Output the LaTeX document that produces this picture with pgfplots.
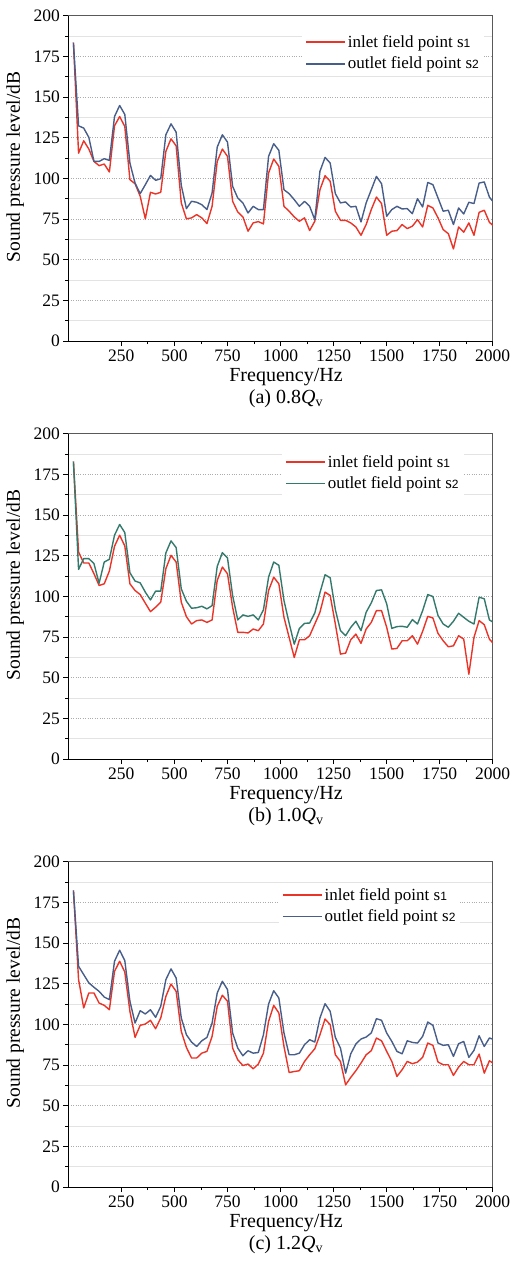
\documentclass[border=0pt]{standalone}
\usepackage{fontspec}
\setmainfont{Liberation Serif}
\setsansfont{Liberation Sans}
\usepackage{pgfplots}
\usepackage{pgfplotstable}
\pgfplotsset{compat=1.18}
\definecolor{sred}{RGB}{234,52,40}
\definecolor{sblue}{RGB}{72,94,138}
\definecolor{steal}{RGB}{52,122,108}

\pgfplotstableread{
f a1 a2 b1 b2 c1 c2
24.2 183.4 183.4 182.9 182.9 182.3 182.3
48.4 115.5 132.3 127.3 116.6 127.5 135.7
72.6 123.1 130.9 120.5 123.2 110.1 130.6
96.8 118.0 125.2 120.5 123.2 119.3 125.5
121.0 110.4 110.4 113.9 120.1 119.3 122.8
145.2 107.8 110.4 106.7 108.1 113.1 120.3
169.4 108.8 112.1 107.7 121.1 111.7 116.8
193.6 103.9 111.0 115.6 122.8 109.0 115.2
217.8 132.3 138.0 130.8 137.6 132.6 138.8
242.0 138.0 144.8 137.6 144.2 138.8 145.6
266.2 131.9 139.3 131.0 139.2 132.2 139.2
290.4 99.2 109.4 107.7 114.5 108.0 114.2
314.6 96.7 97.1 103.6 109.4 92.0 100.8
338.8 89.0 90.6 101.1 108.3 99.4 108.4
363.0 75.1 96.1 95.8 102.6 100.2 106.4
387.2 91.4 101.8 90.6 97.8 102.5 109.0
411.4 90.4 98.8 93.3 103.2 97.3 104.3
435.6 91.4 99.8 96.4 103.2 103.9 111.1
459.8 116.6 126.8 117.0 126.7 117.2 127.5
484.0 124.3 133.5 125.2 134.1 124.8 134.1
508.2 120.0 128.4 121.1 130.0 120.3 128.5
532.4 84.9 95.7 96.4 104.6 95.7 103.9
556.6 75.1 81.4 87.5 97.0 85.8 93.6
580.8 75.7 85.9 83.0 92.7 79.3 89.1
605.0 77.7 85.3 85.1 93.0 79.3 86.4
629.2 75.7 83.8 85.5 93.9 82.3 89.9
653.4 72.2 80.8 84.0 92.3 83.4 92.0
677.6 82.8 91.0 85.5 94.3 92.6 100.8
701.8 110.4 119.2 109.8 118.4 111.1 119.3
726.0 118.0 126.8 118.0 126.9 117.9 126.5
750.2 113.5 122.3 113.9 123.6 114.2 121.4
774.4 85.9 95.1 93.3 100.5 85.4 94.7
798.6 79.3 87.9 77.9 85.5 78.2 85.4
822.8 76.3 84.9 77.9 88.6 74.7 80.7
847.0 67.5 78.7 77.5 87.7 75.6 83.8
871.2 72.6 82.8 79.9 88.6 72.7 82.3
895.4 73.4 80.8 78.9 85.5 75.6 82.7
919.6 72.0 80.8 83.0 91.7 82.3 93.6
943.8 103.3 113.5 103.6 111.8 101.8 112.5
968.0 111.9 121.3 111.8 121.1 111.7 120.7
992.2 107.4 117.2 107.7 119.1 107.0 116.2
1016.4 82.8 93.0 87.1 97.4 86.4 94.7
1040.6 79.8 90.6 74.8 83.6 70.4 81.3
1064.8 76.3 86.9 62.4 70.6 71.0 81.3
1089.0 73.6 82.8 73.3 80.3 71.5 82.3
1113.2 75.7 85.9 73.3 83.4 77.2 87.5
1137.4 67.9 82.8 75.8 83.6 81.3 90.6
1161.6 73.6 74.6 83.0 89.8 85.0 89.1
1185.8 93.0 104.3 90.2 102.2 93.6 103.9
1210.0 101.6 112.9 102.6 113.3 103.3 112.7
1234.2 98.2 109.4 100.5 111.4 99.8 108.0
1258.4 79.8 90.6 83.0 91.9 81.3 92.0
1282.6 74.2 84.9 64.5 78.9 77.2 85.4
1306.8 74.2 85.5 65.1 75.8 62.8 70.0
1331.0 72.6 82.4 73.3 80.9 67.4 81.9
1355.2 70.1 82.8 76.8 84.7 71.5 87.9
1379.4 65.0 73.2 71.1 78.9 76.2 91.0
1403.6 71.6 84.9 79.9 90.2 81.3 92.2
1427.8 80.8 93.0 84.0 96.0 83.8 94.7
1452.0 88.5 101.2 91.2 103.6 91.6 103.5
1476.2 84.5 96.7 91.2 104.0 89.9 102.5
1500.4 65.0 76.7 81.0 95.4 83.4 94.7
1524.6 67.5 80.8 67.6 80.3 77.2 89.5
1548.8 67.9 82.8 68.0 81.4 68.0 83.4
1573.0 71.6 81.2 72.7 81.6 72.1 81.9
1597.2 69.1 81.4 72.7 81.0 77.2 89.9
1621.4 70.6 78.3 75.8 85.7 75.8 88.9
1645.6 74.6 87.5 70.6 83.0 76.8 88.5
1669.8 70.1 82.4 78.5 91.2 79.7 92.6
1694.0 83.4 97.5 87.7 101.1 88.5 101.4
1718.2 81.8 96.1 86.7 99.9 87.1 99.4
1742.4 75.7 87.9 77.2 88.2 76.8 88.5
1766.6 68.5 79.8 72.7 83.0 75.2 87.1
1790.8 66.0 80.4 69.0 81.0 75.2 87.5
1815.0 56.6 71.6 69.6 84.7 68.6 80.3
1839.2 70.1 81.8 75.8 89.6 73.7 88.1
1863.4 66.9 78.1 73.7 87.1 77.2 89.5
1887.6 72.6 85.3 52.1 84.7 75.2 79.7
1911.8 65.0 84.5 74.8 83.0 75.2 84.0
1936.0 79.1 97.1 85.1 99.5 81.7 93.0
1960.2 80.4 97.8 82.6 98.5 70.0 86.4
1984.4 73.0 88.5 73.7 85.5 77.6 91.6
2008.6 70.1 84.5 70.2 83.6 75.6 90.6
}\spldata

\pgfplotsset{legend image code/.code={\draw[#1] (0pt,0pt) -- (39pt,0pt);}}
\pgfplotsset{spl/.style={
  scale only axis, width=424.4pt, height=325.3pt,
  xmin=0, xmax=2000, ymin=0, ymax=200,
  xtick={250,500,...,2000}, minor x tick num=1,
  ytick={0,25,...,200}, minor y tick num=1,
  tick align=outside, tick pos=left,
  major tick length=5pt, minor tick length=3pt,
  tick style={black, line width=0.8pt},
  ymajorgrids, yminorgrids,
  major grid style={gray!65, dotted, line width=0.7pt},
  minor grid style={gray!22, line width=0.7pt},
  axis line style={black!65, line width=1pt},
  tick label style={font=\fontsize{17.5}{17.5}\selectfont},
  /pgf/number format/assume math mode=true,
  /pgf/number format/1000 sep={},
  every axis x label/.style={at={(axis description cs:0.513,0)}, anchor=center, yshift=-36pt, font=\fontsize{20}{20}\selectfont},
  every axis y label/.style={at={(axis description cs:0,0.535)}, anchor=center, xshift=-53pt, rotate=90, font=\fontsize{19.5}{20}\selectfont},
  title style={at={(axis description cs:0.513,0)}, anchor=center, yshift=-64pt, font=\fontsize{20}{20}\selectfont},
  xlabel={Frequency/Hz},
  ylabel={Sound pressure level/dB},
  legend style={draw=none, fill=white, anchor=north west, font=\fontsize{17}{20}\selectfont, row sep=4pt, inner xsep=3pt, inner ysep=3pt},
  legend cell align=left,
  every axis plot/.append style={line width=1.4pt, line join=round},
  after end axis/.code={\draw[black, line width=1pt] (rel axis cs:0,1) -- (rel axis cs:0,0) -- (rel axis cs:1,0);},
}}
\newcommand{\sone}{s{\sffamily\fontsize{12}{12}\selectfont 1}}
\newcommand{\stwo}{s{\sffamily\fontsize{12}{12}\selectfont 2}}

\begin{document}
\begin{tikzpicture}[x=1pt,y=1pt]
\useasboundingbox (0,0) rectangle (513,-1273);

\begin{axis}[spl, at={(68.3pt,-341pt)}, anchor=south west,
  title={(a) 0.8\textit{Q}\textsubscript{v}},
  legend style={at={(axis description cs:0.551,0.955)}}]
\addlegendimage{sred, line width=1.6pt}
\addlegendentry{inlet field point \sone}
\addlegendimage{sblue, line width=1.6pt}
\addlegendentry{outlet field point \stwo}
\addplot[sred, forget plot] table[x=f, y=a1] {\spldata};
\addplot[sblue, forget plot] table[x=f, y=a2] {\spldata};
\end{axis}

\begin{axis}[spl, at={(68.3pt,-759pt)}, anchor=south west,
  title={(b) 1.0\textit{Q}\textsubscript{v}},
  legend style={at={(axis description cs:0.5035,0.949)}}]
\addlegendimage{sred, line width=1.6pt}
\addlegendentry{inlet field point \sone}
\addlegendimage{steal, line width=1.6pt}
\addlegendentry{outlet field point \stwo}
\addplot[sred, forget plot] table[x=f, y=b1] {\spldata};
\addplot[steal, forget plot] table[x=f, y=b2] {\spldata};
\end{axis}

\begin{axis}[spl, at={(68.3pt,-1187pt)}, anchor=south west,
  title={(c) 1.2\textit{Q}\textsubscript{v}},
  legend style={at={(axis description cs:0.496,0.934)}}]
\addlegendimage{sred, line width=1.6pt}
\addlegendentry{inlet field point \sone}
\addlegendimage{sblue, line width=1.6pt}
\addlegendentry{outlet field point \stwo}
\addplot[sred, forget plot] table[x=f, y=c1] {\spldata};
\addplot[sblue, forget plot] table[x=f, y=c2] {\spldata};
\end{axis}
\end{tikzpicture}
\end{document}
